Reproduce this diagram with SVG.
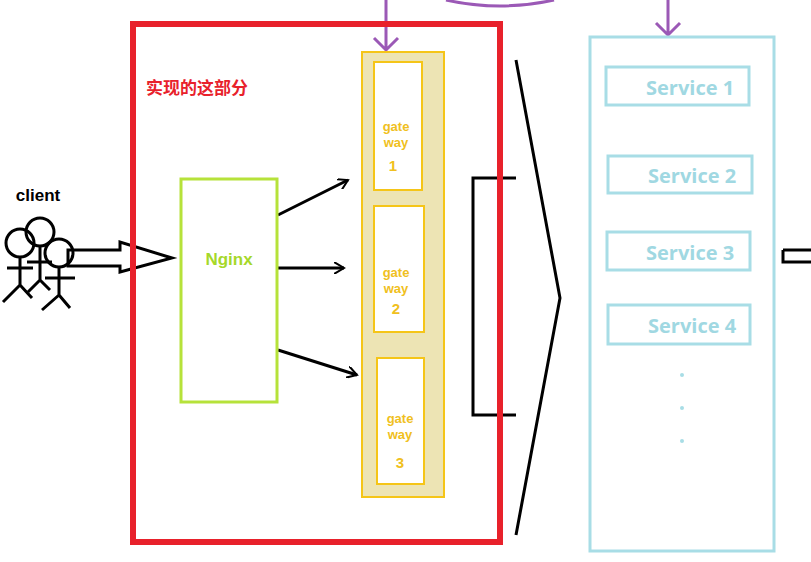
<svg xmlns="http://www.w3.org/2000/svg" width="811" height="562" viewBox="0 0 811 562">
<style>
.blk{fill:none;stroke:#000;stroke-width:3}
.gw{fill:#fff;stroke:#f5c518;stroke-width:2}
.gt{font-family:"Liberation Sans",sans-serif;font-weight:bold;font-size:13px;fill:#f0c020;text-anchor:middle}
.gn{font-size:15px}
.svc{fill:#fff;stroke:#a8dde6;stroke-width:3}
.st{font-family:"Open Sans","Liberation Sans",sans-serif;font-weight:bold;font-size:20px;fill:#a0d8e2}
.pu{fill:none;stroke:#9b59b6;stroke-width:3}
</style>
<defs><marker id="a" markerWidth="12" markerHeight="12" refX="10" refY="6" orient="auto" markerUnits="userSpaceOnUse"><path d="M0,0 L10,6 L0,12" fill="none" stroke="#000" stroke-width="2"/></marker></defs>
<rect width="811" height="562" fill="#fff"/>
<g id="connectors">
<path class="pu" d="M446,0 Q500,12 554,0"/>
<path class="pu" d="M386,0 V50 M374,38 L386,50 L398,38"/>
<path class="pu" d="M668,0 V35 M656,23 L668,35 L680,23"/>
<path class="blk" d="M278,215 L348,180" marker-end="url(#a)"/>
<path class="blk" d="M278,268 L344,268" marker-end="url(#a)"/>
<path class="blk" d="M278,350 L357,375" marker-end="url(#a)"/>
<path class="blk" d="M68,250 H120 V242 L172,258 L120,272 V266 H68 Z"/>
<path class="blk" d="M516,60 L560,298 L516,535 M516,178 H473 V415 H516"/>
<path class="blk" d="M783,250 H811 M783,250 V262 H811"/>
</g>
<g id="client" class="blk">
<circle cx="20" cy="243" r="14"/><circle cx="40" cy="232" r="14"/><circle cx="59" cy="253" r="14"/>
<path d="M20,257 V285 M7,268 H33 M20,285 L3,302 M20,285 L32,298"/>
<path d="M40,246 V280 M27,262 H52 M40,280 L28,292 M40,280 L50,290"/>
<path d="M59,267 V295 M45,278 H75 M59,295 L42,310 M59,295 L70,308"/>
</g>
<text x="38" y="201" font-family="Liberation Sans,sans-serif" font-weight="bold" font-size="17" text-anchor="middle">client</text>
<g id="boundary">
<rect x="133" y="24" width="367" height="518" fill="none" stroke="#e8212b" stroke-width="6"/>
<text x="146" y="94" font-family="Noto Sans CJK SC,sans-serif" font-weight="bold" font-size="17" fill="#e8212b">实现的这部分</text>
</g>
<g id="nginx"><rect x="181" y="179" width="96" height="223" fill="#fff" stroke="#b6e23a" stroke-width="3"/>
<text x="229" y="265" font-family="Liberation Sans,sans-serif" font-weight="bold" font-size="17" fill="#a6d82a" text-anchor="middle">Nginx</text></g>
<g id="gateways"><rect x="362" y="52" width="82" height="445" fill="#ede4b4" stroke="#f5c518" stroke-width="2"/>
<rect class="gw" x="374" y="62" width="48" height="128"/><text class="gt" x="396" y="131">gate</text><text class="gt" x="396" y="147">way</text><text class="gt gn" x="393" y="171">1</text>
<rect class="gw" x="374" y="206" width="50" height="126"/><text class="gt" x="396" y="277">gate</text><text class="gt" x="396" y="293">way</text><text class="gt gn" x="396" y="314">2</text>
<rect class="gw" x="377" y="358" width="47" height="126"/><text class="gt" x="400" y="423">gate</text><text class="gt" x="400" y="439">way</text><text class="gt gn" x="400" y="468">3</text></g>
<g id="services"><rect x="590" y="37" width="184" height="514" fill="#fff" stroke="#a8dde6" stroke-width="3"/>
<rect class="svc" x="606" y="67" width="143" height="38"/><text class="st" x="646" y="95">Service 1</text>
<rect class="svc" x="608" y="156" width="144" height="37"/><text class="st" x="648" y="183">Service 2</text>
<rect class="svc" x="607" y="232" width="143" height="38"/><text class="st" x="646" y="260">Service 3</text>
<rect class="svc" x="608" y="305" width="142" height="39"/><text class="st" x="648" y="333">Service 4</text>
<circle cx="682" cy="375" r="2" fill="#a8dde6"/><circle cx="682" cy="408" r="2" fill="#a8dde6"/><circle cx="682" cy="441" r="2" fill="#a8dde6"/></g>
</svg>
